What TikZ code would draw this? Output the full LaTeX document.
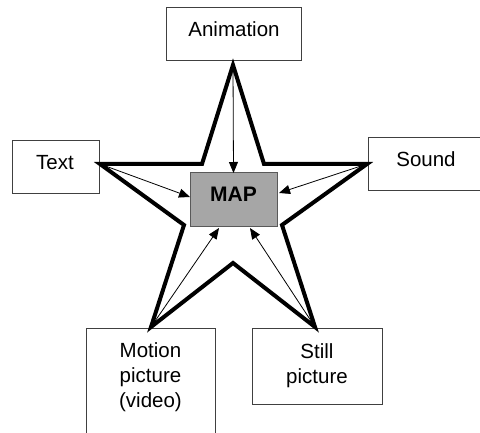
\documentclass[tikz,border=0pt]{standalone}
\usepackage{fontspec}
\setmainfont{Liberation Sans}
\usetikzlibrary{arrows.meta,calc}
\definecolor{boxline}{HTML}{404040}
\definecolor{mapfill}{HTML}{A6A6A6}
\definecolor{mapline}{HTML}{595959}
\begin{document}
\begin{tikzpicture}[x=1pt,y=-1pt,
  box/.style={draw=boxline,line width=1pt,fill=white,inner sep=0pt,outer sep=0pt},
  lbl/.style={inner sep=0pt,outer sep=0pt,font=\fontsize{20.5}{25}\selectfont,align=center},
  starline/.style={line width=4pt,line join=miter,miter limit=10},
  feed/.style={line width=0.8pt,-{Triangle[length=11pt,width=9pt]}}]
\useasboundingbox (0,0) rectangle (480,433);
\clip (0,0) rectangle (480,433);
\fill[white] (0,0) rectangle (480,433);
% boxes
\node[box,minimum width=135pt,minimum height=53pt] (anim) at (233.5,34.5) {};
\node[box,minimum width=87pt,minimum height=53pt] (text) at (55.5,167.5) {};
\node[box,minimum width=116pt,minimum height=53pt] (sound) at (426,164.5) {};
\node[box,minimum width=129pt,minimum height=111pt] (motion) at (150.5,384.5) {};
\node[box,minimum width=130pt,minimum height=75pt] (still) at (317,366.5) {};
% labels
\node[lbl,anchor=base] (animl) at (234,37) {Animation};
\node[lbl,anchor=base] (textl) at (55,170) {Text};
\node[lbl,anchor=base] (soundl) at (426,167) {Sound};
\node[lbl,anchor=north] (motionl) at (150.5,343) {Motion\\picture\\(video)};
\node[lbl,anchor=north] (stilll) at (317,344) {Still\\picture};
% star
\coordinate (t) at (233,65);
\coordinate (ur) at (264,164);
\coordinate (r) at (367,164);
\coordinate (lr) at (282,225);
\coordinate (br) at (315,327);
\coordinate (b) at (233,263);
\coordinate (bl) at (151,327);
\coordinate (ll) at (184,225);
\coordinate (l) at (100,164);
\coordinate (ul) at (202,164);
\draw[starline] (t) -- (ur) -- (r) -- (lr) -- (br) -- (b) -- (bl) -- (ll) -- (l) -- (ul) -- cycle;
% MAP
\node[draw=mapline,line width=1pt,fill=mapfill,minimum width=87pt,minimum height=54pt,inner sep=0pt,outer sep=0pt] (map) at (233.5,200) {};
\node[lbl,anchor=base,font=\fontsize{21}{25}\selectfont\bfseries] (mapl) at (233.5,202) {MAP};
% arrows
\draw[feed] (t) -- (map.north);
\draw[feed] (l) -- ($(map.west)+(0,-3)$);
\draw[feed] (r) -- ($(map.east)+(2,-7)$);
\draw[feed] (bl) -- ($(map.south)+(-14.5,1)$);
\draw[feed] (br) -- ($(map.south)+(16.5,1)$);
\end{tikzpicture}
\end{document}
